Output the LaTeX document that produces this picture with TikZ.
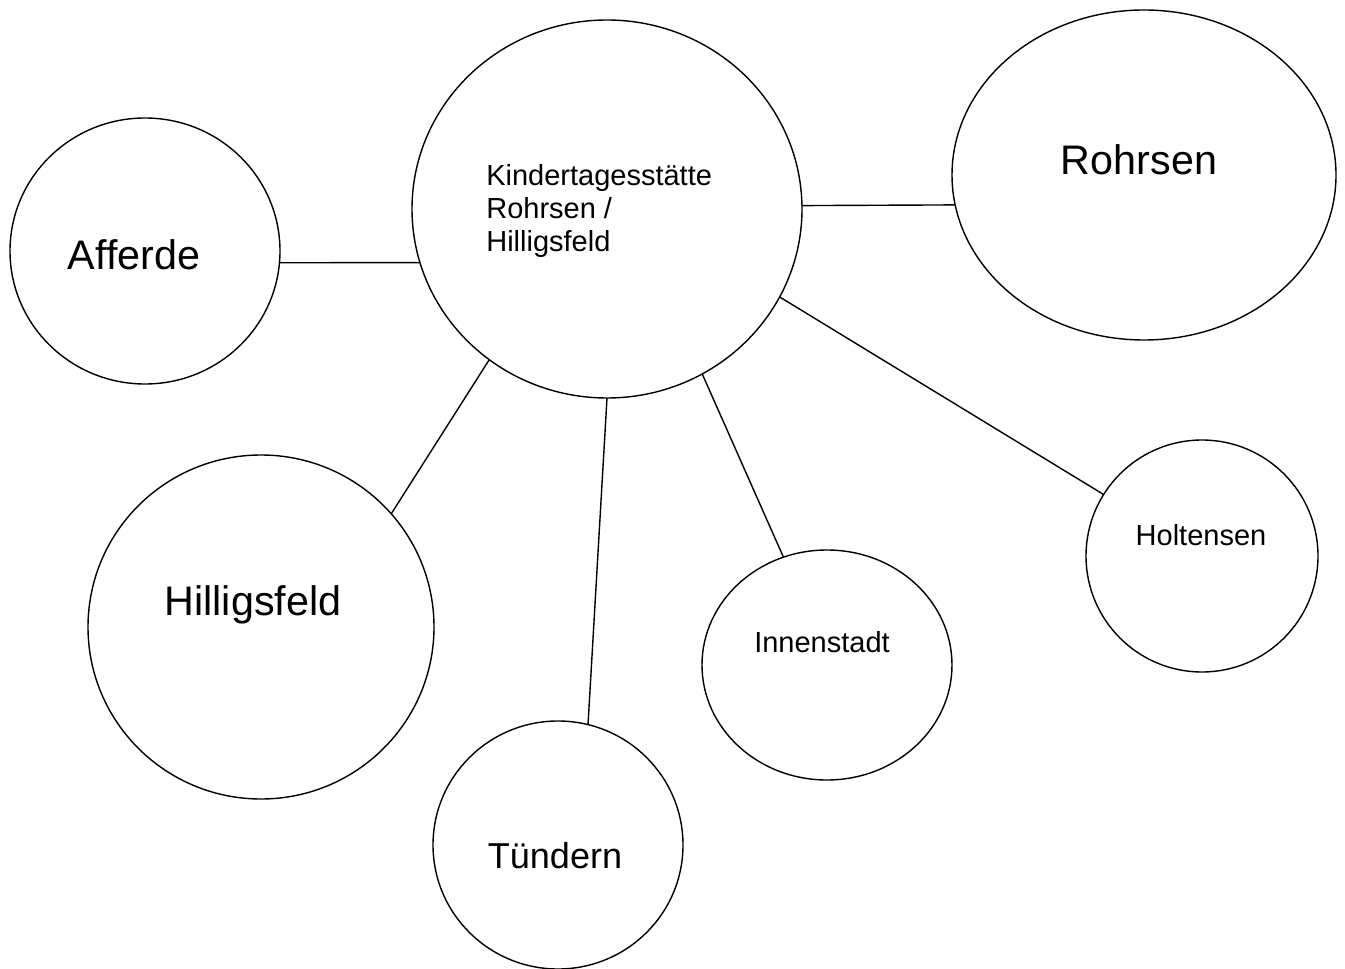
\documentclass[tikz,border=0pt]{standalone}
\usepackage{fontspec}
\setmainfont{Liberation Sans}
\usetikzlibrary{shapes.geometric}
\begin{document}
\begin{tikzpicture}[x=0.02cm,y=-0.02cm,
  bub/.style={ellipse,draw,line width=0.8pt,inner sep=0pt,outer sep=0pt},
  big/.style={font=\fontsize{23.5}{28}\selectfont,inner sep=0pt},
  mid/.style={font=\fontsize{20.5}{24}\selectfont,inner sep=0pt},
  sml/.style={font=\fontsize{16.5}{19}\selectfont,inner sep=0pt},
  link/.style={line width=0.8pt}]
\useasboundingbox (0,0) rectangle (1345,969);
\node[bub,minimum width=270*0.02cm,minimum height=266*0.02cm] (aff) at (145,251) {};
\node[bub,minimum width=390*0.02cm,minimum height=378*0.02cm] (kit) at (607,209) {};
\node[bub,minimum width=384*0.02cm,minimum height=330*0.02cm] (roh) at (1144,175) {};
\node[bub,minimum width=346*0.02cm,minimum height=344*0.02cm] (hil) at (261,627) {};
\node[bub,minimum width=250*0.02cm,minimum height=248*0.02cm] (tue) at (558,845) {};
\node[bub,minimum width=250*0.02cm,minimum height=230*0.02cm] (inn) at (827,665) {};
\node[bub,minimum width=232*0.02cm,minimum height=232*0.02cm] (hol) at (1202,556) {};

\node[big] (affT) at (134,255) {Afferde};
\node[big] (rohT) at (1139,160) {Rohrsen};
\node[big] (hilT) at (253,605) {Hilligsfeld};
\node[mid] (tueT) at (555,856) {Tündern};
\node[sml] (innT) at (822,642) {Innenstadt};
\node[sml] (holT) at (1201,535) {Holtensen};
\node[sml,anchor=west,align=left] (kitT) at (486,211) {Kindertagesstätte\\Rohrsen /\\Hilligsfeld};

\draw[link] (aff.-5.2) -- (kit.-164.5);
\draw[link] (kit.1.5) -- (roh.-171.4);
\draw[link] (kit.-128.3) -- (hil.41.7);
\draw[link] (kit.-90.3) -- (tue.76.3);
\draw[link] (kit.-60.5) -- (inn.112.7);
\draw[link] (kit.-27.8) -- (hol.148);
\end{tikzpicture}
\end{document}
